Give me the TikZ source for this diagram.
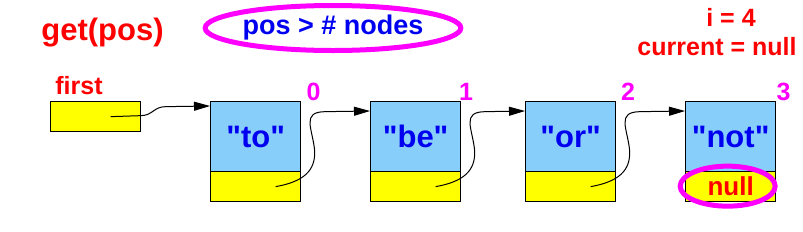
\documentclass[tikz,border=0pt]{standalone}
\usepackage{fontspec}
\setmainfont{Liberation Sans}
\newfontfamily\plainsans{Liberation Sans}
\usetikzlibrary{arrows.meta,calc,shapes.geometric}
\definecolor{cell}{RGB}{135,206,250}
\definecolor{ptr}{RGB}{255,255,0}
\definecolor{mag}{RGB}{255,0,255}
\definecolor{txtred}{RGB}{255,0,0}
\definecolor{txtblue}{RGB}{0,0,240}
\begin{document}
\begin{tikzpicture}[x=1pt,y=-1pt,
  datapart/.style={draw=black, line width=1.3pt, fill=cell, minimum width=90pt, minimum height=70pt, inner sep=0pt, anchor=north west, font=\plainsans\fontsize{31}{31}\selectfont\bfseries, text=txtblue},
  linkpart/.style={draw=black, line width=1.3pt, fill=ptr, minimum width=90pt, minimum height=30pt, inner sep=0pt, anchor=north west},
  lbl/.style={font=\fontsize{25}{25}\selectfont\bfseries, text=txtred, anchor=base},
  idx/.style={font=\fontsize{25}{25}\selectfont\bfseries, text=mag, anchor=base},
  link/.style={line width=1pt, -{Triangle[length=16pt,width=9pt]}},
  hilite/.style={draw=mag, line width=5pt}]
\useasboundingbox (0,0) rectangle (803,231);
% titles
\node[font=\fontsize{31}{31}\selectfont\bfseries, text=txtred, anchor=base] (title) at (102.5,40) {get(pos)};
\node[hilite, ellipse, minimum width=229pt, minimum height=45pt, inner sep=0pt, text=txtblue, font=\fontsize{27}{27}\selectfont\bfseries] (cond) at (333,28) {pos > \# nodes};
\node[lbl] (ival) at (731,26) {i = 4};
\node[lbl] (cur) at (717,55) {current = null};
\node[lbl] (firstlbl) at (79,94) {first};
% boxes
\node[linkpart] (first) at (50,101) {};
\node[datapart] (n0) at (210,101) {"to"};
\node[linkpart] (n0y) at (210,171) {};
\node[datapart] (n1) at (370,101) {"be"};
\node[linkpart] (n1y) at (370,171) {};
\node[datapart] (n2) at (525,101) {"or"};
\node[linkpart] (n2y) at (525,171) {};
\node[datapart] (n3) at (685,101) {"not"};
\node[linkpart, text=txtred, font=\fontsize{26}{26}\selectfont\bfseries] (n3y) at (685,171) {null};
% indices
\node[idx] (i0) at (313.5,100) {0};
\node[idx] (i1) at (466,100) {1};
\node[idx] (i2) at (628,100) {2};
\node[idx] (i3) at (783.5,100) {3};
% links
\draw[link] ($(first.center)+(15,0)$) -- ($(first.center)+(45,-1)$) .. controls +(12,0) and +(-12,0) .. ($(first.center)+(70,-10)$) -- ($(n0.north west)+(0,5)$);
\foreach \a/\b in {n0/n1,n1/n2,n2/n3}{
  \draw[link] ($(\a y.center)+(20,0)$) .. controls +(28,-5) and +(1,20) .. ($(\a y.center)+(59,-36)$) .. controls +(-2,-22) and +(-25,0) .. ($(\a y.center)+(70,-75)$) -- ($(\b.north west)+(0,10)$);
}
\draw[hilite] ($(n3y.center)+(-3,-0.5)$) ellipse [x radius=47.5pt, y radius=20pt];
\end{tikzpicture}
\end{document}
